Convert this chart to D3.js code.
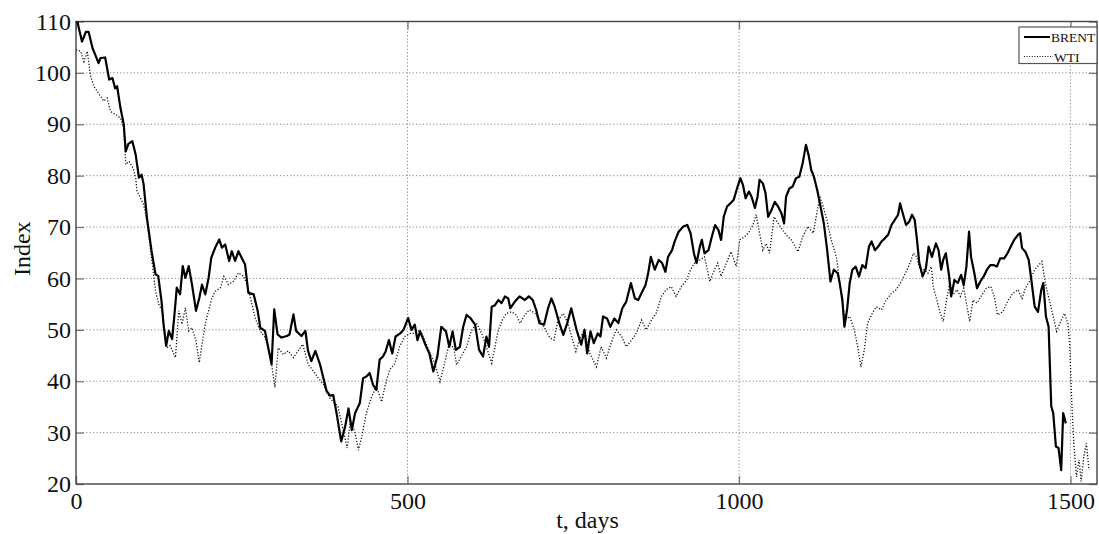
<!DOCTYPE html>
<html>
<head>
<meta charset="utf-8">
<script src="https://cdn.jsdelivr.net/npm/d3@7"></script>
<style>
  body { margin: 0; background: #fff; }
  text { font-family: "Liberation Serif", "Times New Roman", serif; fill: #111; }
</style>
</head>
<body>
<div id="chart"></div>
<script>
// BRENT index (day, value)
const brentDay = [0,2,9,15,19,25,30,34,37,44,50,55,59,62,67,72,75,79,85,90,95,99,102,107,114,120,124,129,132,136,140,145,149,152,157,161,165,170,175,181,186,190,195,200,204,210,216,220,225,231,235,240,245,250,255,260,268,274,278,285,290,295,299,304,310,318,322,328,332,340,346,350,355,361,368,373,378,383,388,393,400,406,411,416,421,428,433,438,443,448,453,458,463,467,472,477,482,489,494,501,506,511,515,519,526,533,539,545,551,558,563,568,573,579,584,589,595,602,608,614,619,623,627,632,637,642,647,652,655,662,669,677,683,689,694,699,706,712,717,722,729,735,741,747,755,762,767,771,776,781,787,791,795,801,806,812,818,824,830,837,843,848,854,859,863,867,873,879,884,889,893,899,903,909,916,922,927,932,936,941,944,948,954,959,964,969,973,977,982,987,992,997,1002,1006,1010,1015,1019,1024,1028,1031,1036,1040,1044,1049,1054,1059,1064,1068,1071,1076,1081,1086,1091,1096,1101,1105,1109,1113,1118,1123,1128,1133,1138,1143,1149,1152,1156,1159,1163,1167,1171,1176,1181,1186,1191,1196,1200,1205,1210,1215,1220,1225,1230,1235,1240,1243,1247,1252,1257,1261,1265,1268,1272,1277,1282,1286,1291,1297,1301,1305,1308,1312,1317,1320,1325,1330,1335,1339,1343,1347,1350,1355,1359,1364,1369,1374,1379,1384,1389,1394,1400,1405,1410,1415,1421,1424,1427,1432,1437,1441,1446,1451,1456,1459,1463,1467,1471,1474,1478,1482,1486,1489,1493];
const brentVal = [110,110,106.1,108,108,104.8,103.2,101.9,102.9,103,98.7,99,97,97.4,93.2,90,84.7,86.2,86.7,84.1,79.6,80.2,78.3,71.8,65.3,60.8,60.5,55.6,51.1,46.9,49.8,48.2,53.7,58.2,56.9,62.4,60.1,62.4,58.8,53.7,56.2,58.8,56.9,60.1,64,66,67.6,66,66.6,63.4,65.3,63.4,65.3,64,62.7,57.2,56.9,53.7,50.4,49.8,46.5,43.3,54,49.1,48.5,48.8,49.1,53,49.8,48.8,49.8,45.9,43.9,45.9,43.3,40.7,38.1,37.2,37.3,33.8,28.3,31.2,34.7,30.5,33.8,35.7,40.6,40.9,41.6,39.3,38.3,44.2,44.8,45.8,48,45.4,48.7,49.3,50,52.3,50,51,48,49.7,47.4,45.4,41.9,44.8,50.6,49.7,46.7,49.7,46.1,46.7,50.6,52.9,52.3,51,46.1,44.8,48.7,46.7,54.5,54.8,55.8,55.2,56.5,56.1,54.2,55.5,56.5,55.8,56.5,55.8,53.9,51.3,51,54.2,56.1,54.5,51.3,49,51.3,54.2,50,47.1,50,45.4,49.7,47.4,49.3,48.7,52.6,52.2,50.6,52.2,51.3,54.2,55.5,59.1,56.1,55.8,57.4,58.7,61,64.2,61.7,63.6,63,61.3,64.2,65.5,67.2,69.1,70.1,70.4,68.8,64.9,63,66.2,67.5,64.9,65.5,68.1,70.4,69.4,67.5,72,74,74.6,75.3,77.5,79.5,78.2,75.6,76.9,75.9,73.7,75.9,79.2,78.5,76.6,72,73.3,74.9,74,72.7,70.7,75.9,77.5,77.9,79.5,79.8,82.4,86,84,81.1,79.8,77.2,74,70.7,65.5,59.4,61.7,61,59,55.8,50.6,53.9,59.1,61.7,62.3,60.4,62.6,62,66.2,67.2,65.5,66.2,67.2,67.8,68.5,70.4,71.4,72.4,74.6,72.7,70.4,71.1,72.4,71.4,68.1,63,60.4,62,66.2,64.2,66.8,65.5,61.7,63.6,64.9,60.4,56.5,59.7,59.1,60.7,58.7,62.3,69.1,64.2,61,58.1,59.4,60.4,61.7,62.6,62.6,62.3,63.9,63.9,64.9,66.2,67.5,68.5,68.8,65.9,65.2,63.6,59.7,54.5,53.5,57.8,59.1,52.6,50.6,35.1,33.8,27.3,27,22.7,33.8,31.8];

// WTI index (day, value)
const wtiDay = [0,7,12,17,22,27,35,42,47,52,60,67,72,75,80,86,90,92,97,102,107,114,120,125,130,137,142,150,155,160,165,170,175,181,186,190,195,200,205,210,218,223,230,238,245,253,258,263,270,278,285,293,300,305,313,320,328,335,342,350,358,365,373,380,383,395,403,409,414,421,426,431,438,446,453,461,466,473,481,488,496,504,511,519,526,534,541,549,556,563,570,574,581,589,596,604,612,619,627,632,637,643,649,657,664,670,677,684,692,700,707,715,721,727,735,742,749,754,760,767,775,785,792,800,807,815,823,830,838,845,853,860,868,875,883,890,898,905,913,921,927,933,941,948,956,963,968,973,981,988,996,1001,1008,1014,1021,1026,1031,1036,1041,1046,1053,1059,1066,1071,1079,1089,1096,1104,1112,1117,1122,1127,1132,1139,1147,1152,1156,1160,1167,1174,1179,1184,1189,1194,1201,1207,1215,1222,1230,1237,1245,1252,1258,1263,1268,1273,1280,1285,1290,1293,1297,1302,1308,1313,1318,1324,1329,1334,1339,1344,1348,1353,1359,1365,1373,1380,1385,1390,1398,1405,1413,1421,1427,1432,1438,1446,1452,1457,1462,1468,1474,1479,1484,1491,1496,1499,1502,1505,1509,1513,1516,1520,1524,1528];
const wtiVal = [104.5,104.2,102.2,104.2,99.3,97.4,95.8,94.5,95.1,92.5,91.9,91.2,89.3,82.2,82.8,81.5,79.6,77,75.7,74.4,71.1,64,57.5,54.9,53.7,46.5,46.9,44.6,53.7,51.1,54.3,49.8,50.4,47.8,43.6,47.2,51.1,53.7,56.2,57.5,58.2,60.4,58.8,59.5,61.1,60.4,58.8,56.2,52.4,49.8,48.5,45.2,38.8,46.5,45.2,45.9,44.6,45.9,47.2,43.3,42,40.7,39.4,37.5,36.7,35.1,30.5,27,32.5,29.9,26.6,29.2,33.8,37,39,36,39,42.2,43.5,46.7,48.7,49.3,49.3,50,48,45.4,43.5,39.9,43.5,47.4,46.4,43.2,44.8,46.7,49.7,51.3,49.3,46.7,43.5,46.7,50,51.9,53.2,53.5,52.9,51.3,52.9,53.9,53.2,51.9,50.3,48.4,48,51.9,53.2,51.3,48,45.8,48.4,50,45.4,42.8,46.7,44.5,47.4,50,48.7,46.7,48,49.3,51.9,50,51.9,53.2,56.5,57.8,58.4,56.5,58.4,59.7,61.7,63,63.6,64.2,59.4,61.7,63,60.4,63,65.2,62.3,67.5,68.1,68.8,70.4,72.4,68.8,65.5,66.8,64.9,72,70.7,69.4,68.5,67.5,65.2,68.1,70.1,68.8,72.4,75.9,74,71.7,67.5,64.2,59,55,52,52.6,50,46.7,42.8,46.1,51.3,53.2,54.5,53.9,55.8,57.1,57.8,59.4,61.3,63,64.9,64.2,61.7,61.7,61,62.3,58.4,56.5,53.9,51.6,55.8,59.1,57.1,57.8,56.5,58.1,54.5,51.6,55.8,55.2,56.5,58.1,58.4,56.5,52.9,53.5,55.5,57.1,57.8,56.1,58.1,59.4,61.7,62.6,63.3,59.1,55.8,52.6,49.7,51.3,53.2,51.3,46.7,35.7,27.9,21.4,24.7,20.5,25.3,27.9,22.7];

const xTicks = [0, 500, 1000, 1500];
const yTicks = [20, 30, 40, 50, 60, 70, 80, 90, 100, 110];
const seriesNames = ["BRENT", "WTI"];

var margin = {top: 21.5, right: 2, bottom: 50, left: 76},
    width = 1099 - margin.left - margin.right,
    height = 534 - margin.top - margin.bottom;

var svg = d3.select("#chart")
  .append("svg")
    .attr("width", 1099)
    .attr("height", 534)
  .append("g")
    .attr("transform", "translate(" + margin.left + "," + margin.top + ")");

var x = d3.scaleLinear().domain([0, 1540]).range([0, width]);
var y = d3.scaleLinear().domain([20, 110]).range([height, 0]);

svg.append("clipPath").attr("id", "plotclip")
  .append("rect").attr("width", width).attr("height", height);

// grid
svg.append("g").selectAll("line").data(yTicks.slice(1, -1)).enter().append("line")
  .attr("x1", 0).attr("x2", width)
  .attr("y1", d => y(d)).attr("y2", d => y(d))
  .attr("stroke", "#8a8a8a").attr("stroke-width", 1).attr("stroke-dasharray", "1.2,2.2");
svg.append("g").selectAll("line").data(xTicks.slice(1)).enter().append("line")
  .attr("x1", d => x(d)).attr("x2", d => x(d))
  .attr("y1", 0).attr("y2", height)
  .attr("stroke", "#8a8a8a").attr("stroke-width", 1).attr("stroke-dasharray", "1.2,2.2");

// axes: ticks inward on all four sides, like matlab
var tickLen = 8;
var axLeft = svg.append("g").call(d3.axisLeft(y).tickValues(yTicks).tickSize(-tickLen).tickPadding(5));
var axRight = svg.append("g").attr("transform", "translate(" + width + ",0)")
  .call(d3.axisRight(y).tickValues(yTicks).tickSize(-tickLen).tickFormat(""));
var axBottom = svg.append("g").attr("transform", "translate(0," + height + ")")
  .call(d3.axisBottom(x).tickValues(xTicks).tickFormat(d3.format("d")).tickSize(-tickLen).tickPadding(7.5));
var axTop = svg.append("g")
  .call(d3.axisTop(x).tickValues(xTicks).tickSize(-tickLen).tickFormat(""));

[axLeft, axRight, axBottom, axTop].forEach(function(g) {
  g.select(".domain").remove();
  g.selectAll(".tick line").attr("stroke", "#777").attr("stroke-width", 1.3);
  g.selectAll(".tick text")
    .style("font-family", "'Liberation Serif', serif")
    .style("font-size", "24px")
    .attr("fill", "#111");
});

svg.append("rect")
  .attr("width", width).attr("height", height)
  .attr("fill", "none").attr("stroke", "#444").attr("stroke-width", 1.4);

// lines
var line = d3.line()
  .x(d => x(d[0]))
  .y(d => y(d[1]));

var brent = brentDay.map((d, i) => [d, brentVal[i]]);
var wti = wtiDay.map((d, i) => [d, wtiVal[i]]);

var plot = svg.append("g").attr("clip-path", "url(#plotclip)");
plot.append("path")
  .attr("d", line(wti))
  .attr("fill", "none")
  .attr("stroke", "#111")
  .attr("stroke-width", 1.3)
  .attr("stroke-dasharray", "1.2,1.8");
plot.append("path")
  .attr("d", line(brent))
  .attr("fill", "none")
  .attr("stroke", "#000")
  .attr("stroke-width", 2.2)
  .attr("stroke-linejoin", "round");

// axis titles
svg.append("text")
  .attr("x", width / 2 + 1).attr("y", height + 44)
  .attr("text-anchor", "middle")
  .style("font-size", "24px")
  .text("t, days");

svg.append("text")
  .attr("transform", "translate(-46," + (height / 2 - 4) + ")rotate(-90)")
  .attr("text-anchor", "middle")
  .style("font-size", "24px")
  .text("Index");

// legend
var lg = svg.append("g").attr("transform", "translate(" + (width - 78) + ",5.5)");
lg.append("rect").attr("width", 78).attr("height", 36.5)
  .attr("fill", "#fff").attr("stroke", "#555").attr("stroke-width", 1.2);
lg.append("line").attr("x1", 5).attr("x2", 31).attr("y1", 10).attr("y2", 10)
  .attr("stroke", "#000").attr("stroke-width", 2);
lg.append("line").attr("x1", 5).attr("x2", 34).attr("y1", 29.5).attr("y2", 29.5)
  .attr("stroke", "#111").attr("stroke-width", 1.1).attr("stroke-dasharray", "1,1.6");
lg.selectAll("text").data(seriesNames).enter().append("text")
  .attr("x", (d, i) => i ? 35 : 32)
  .attr("y", (d, i) => i ? 34.5 : 15)
  .style("font-size", "13.5px")
  .text(d => d);
</script>
</body>
</html>
